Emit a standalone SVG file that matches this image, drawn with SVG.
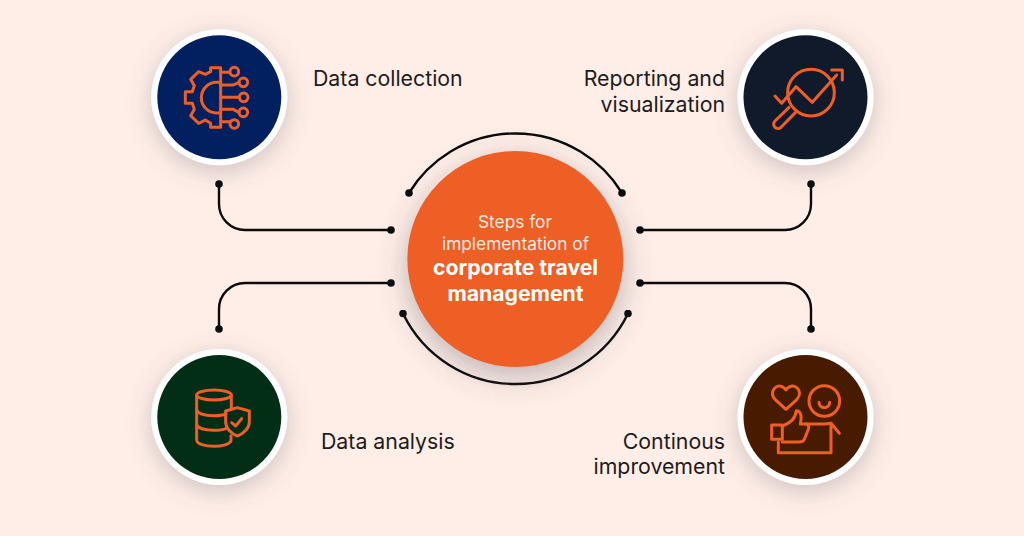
<svg xmlns="http://www.w3.org/2000/svg" width="1024" height="536" viewBox="0 0 1024 536">
<style>
.t{font-family:Inter,"Noto Sans",sans-serif;font-size:21.300px;fill:#1c1c1c}
.c{font-family:Inter,"Noto Sans",sans-serif;fill:#fff;text-anchor:middle}
.l{fill:none;stroke:#0b0b0b;stroke-width:2.400}
.i{fill:none;stroke:#EE5F26;stroke-width:9;stroke-linejoin:round;stroke-linecap:round}
.w{fill:#fff;filter:url(#s)}
</style>
<defs>
<filter id="s" x="-40%" y="-40%" width="180%" height="180%"><feDropShadow dx="0" dy="6" stdDeviation="12" flood-color="#5a5a68" flood-opacity=".3"/></filter>
<filter id="s2" x="-30%" y="-30%" width="160%" height="160%"><feDropShadow dx="0" dy="9" stdDeviation="15" flood-color="#4a4a58" flood-opacity=".36"/></filter>
<marker id="d" viewBox="0 0 8 8" refX="4" refY="4" markerWidth="8" markerHeight="8" markerUnits="userSpaceOnUse"><circle cx="4" cy="4" r="3.800" fill="#0b0b0b"/></marker>
</defs>
<rect width="1024" height="536" fill="#FFEEE7"/>
<g id="connectors">
<path class="l" marker-start="url(#d)" marker-end="url(#d)" d="M219 184V204A26 26 0 0 0 245 230H391"/>
<path class="l" marker-start="url(#d)" marker-end="url(#d)" d="M219 329V309A26 26 0 0 1 245 283H391"/>
<path class="l" marker-start="url(#d)" marker-end="url(#d)" d="M811 184V204A26 26 0 0 1 785 230H640"/>
<path class="l" marker-start="url(#d)" marker-end="url(#d)" d="M811 329V309A26 26 0 0 0 785 283H640"/>
<path class="l" marker-start="url(#d)" marker-end="url(#d)" d="M409 193A125 125 0 0 1 622 193"/>
<path class="l" marker-start="url(#d)" marker-end="url(#d)" d="M403 313.500A125 125 0 0 0 628 313.500"/>
</g>
<g id="center">
<circle cx="515.300" cy="259" r="108" fill="#EE5F26" filter="url(#s2)"/>
<text class="c" x="515" y="228" font-size="17.300" fill-opacity=".9">Steps for</text>
<text class="c" x="515.500" y="250" font-size="17.300" fill-opacity=".9">implementation of</text>
<text class="c" x="515.500" y="275" font-size="21.200" font-weight="700">corporate travel</text>
<text class="c" x="515.500" y="300.500" font-size="21.200" font-weight="700">management</text>
</g>
<g id="data-collection">
<circle class="w" cx="219.300" cy="97.300" r="68"/>
<circle cx="219.300" cy="97.300" r="62" fill="#02205F"/>
<g class="i" transform="translate(140 20) scale(.3333)">
<path d="M242 143H212V155L196 163L176 155L152 178L163 197L157 215H136V250H157L163 268L152 287L176 310L196 300L212 310V322H242Z"/>
<path d="M242 187H230A46 46 0 0 0 230 279H242"/>
<path d="M242 157H269M242 195H280L297 187M242 232H297M242 268H280L297 277M242 305H269"/>
<circle cx="283" cy="155" r="13"/><circle cx="310" cy="187" r="13"/><circle cx="311" cy="232" r="13"/><circle cx="310" cy="277" r="13"/><circle cx="283" cy="312" r="13"/>
</g>
<text class="t" x="313" y="85.500">Data collection</text>
</g>
<g id="reporting">
<circle class="w" cx="805.500" cy="97.300" r="68"/>
<circle cx="805.500" cy="97.300" r="62" fill="#111A2B"/>
<g class="i" transform="translate(725 20) scale(.3333)">
<circle cx="258" cy="218" r="70"/>
<path d="M192 262L150 303A13 13 0 0 0 168 322L211 278"/>
<path d="M150 228L170 250L213 200L262 247L335 165"/>
<path d="M320 150H352V180"/>
</g>
<text class="t" x="725" y="85.500" text-anchor="end">Reporting and</text>
<text class="t" x="725" y="111.500" text-anchor="end">visualization</text>
</g>
<g id="data-analysis">
<circle class="w" cx="219.300" cy="417" r="68"/>
<circle cx="219.300" cy="417" r="62" fill="#032E16"/>
<g class="i" transform="translate(140 340) scale(.3333)">
<ellipse cx="222" cy="165" rx="52" ry="15"/>
<path d="M170 165V300C170 312 195 319 222 319C245 319 270 313 273 302V287"/>
<path d="M170 210C175 222 200 227 222 227C235 227 248 226 258 222"/>
<path d="M170 255C175 266 200 271 222 271C235 271 248 270 258 266"/>
<path d="M274 165V204"/>
<path d="M292 203L328 213V245C328 265 310 282 292 288C274 282 257 265 257 245V213Z"/>
<path d="M275 248L287 258L305 236"/>
</g>
<text class="t" x="321" y="448.500">Data analysis</text>
</g>
<g id="improvement">
<circle class="w" cx="805.500" cy="417" r="68"/>
<circle cx="805.500" cy="417" r="62" fill="#481B00"/>
<g class="i" transform="translate(725 340) scale(.3333)">
<path d="M183 208L150 178C126 150 165 122 183 150C201 122 240 150 216 178Z"/>
<circle cx="298" cy="183" r="46"/>
<path d="M282 187A16 16 0 0 0 314 187"/>
<path d="M140 255H172V298H140Z"/>
<path d="M172 258C195 250 212 235 214 212C226 212 232 225 226 252H244C252 254 252 262 250 268L238 298C235 305 228 306 222 306H172"/>
<path d="M160 306V338H318V250L343 280"/>
<path d="M244 252H300L318 250"/>
</g>
<text class="t" x="725" y="448.500" text-anchor="end">Continous</text>
<text class="t" x="725" y="473.500" text-anchor="end">improvement</text>
</g>
</svg>
